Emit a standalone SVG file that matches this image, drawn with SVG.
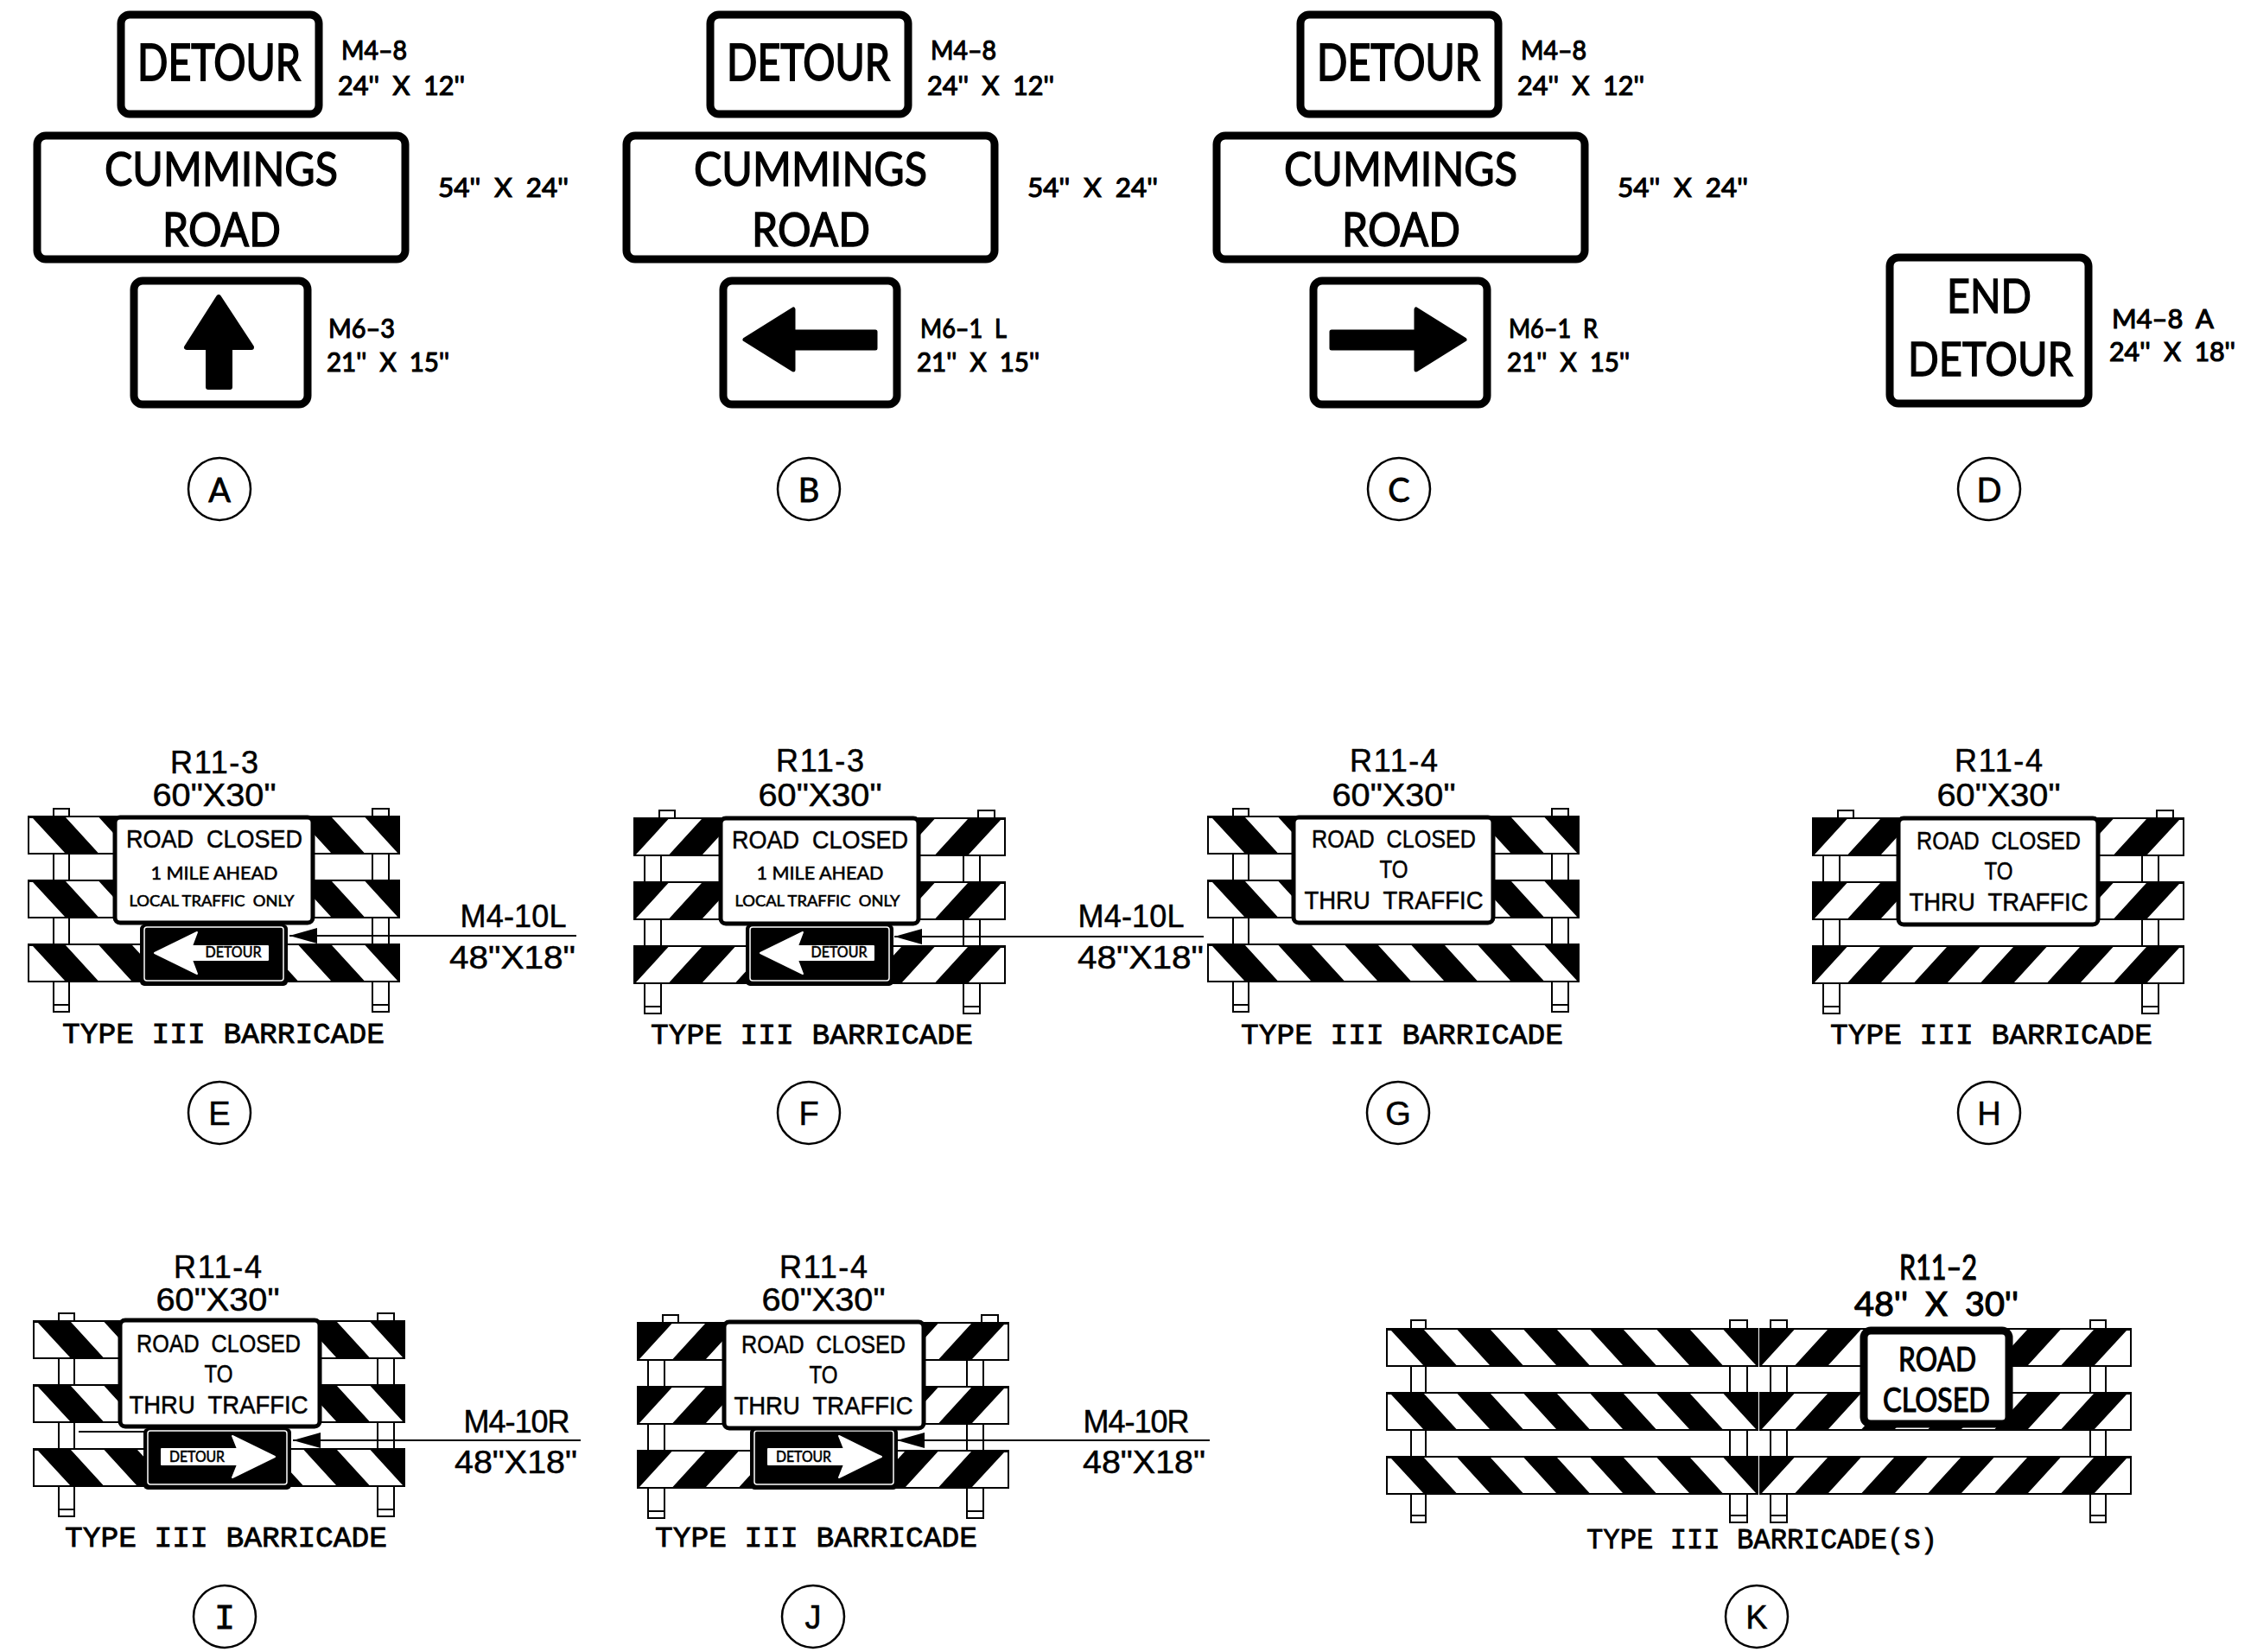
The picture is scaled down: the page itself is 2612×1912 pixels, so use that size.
<svg xmlns="http://www.w3.org/2000/svg" width="2612" height="1912" viewBox="0 0 2612 1912">
<style>
text{fill:#000;white-space:pre}
.g{font-family:"Lato","Liberation Sans",sans-serif;stroke:#000;stroke-width:1}
.big{font-size:58px;stroke-width:1.8}
.sb{font-size:55px;stroke-width:1.4}
.lab{font-size:31px;stroke-width:1.2}
.h{font-family:"Liberation Sans",Arial,sans-serif;stroke:#000;stroke-width:.5}
.top{font-size:36px;text-anchor:middle}
.rs{font-size:30px;text-anchor:middle}
.m{font-family:"Liberation Mono","Courier New",monospace;font-size:34px;stroke:#000;stroke-width:.8}
.c{font-size:38px;text-anchor:middle}
.mid{text-anchor:middle}
.box{fill:#fff;stroke:#000;stroke-width:9}
.sign{fill:#fff;stroke:#000;stroke-width:5}
.circ{fill:#fff;stroke:#000;stroke-width:2.5}
.post{fill:#fff;stroke:#000;stroke-width:2}
.ln{stroke:#000;stroke-width:2;fill:none}
.d{font-size:17px;stroke-width:.6}
</style>
<defs>
<marker id="ah" markerUnits="userSpaceOnUse" markerWidth="32" markerHeight="18" viewBox="0 0 32 18" refX="32" refY="9" orient="auto"><path d="M0,0L32,9L0,18z" fill="#000"/></marker>
<g id="railF">
<rect x="0" y="0" width="429" height="43" fill="#000" stroke="#000" stroke-width="2"/>
<path fill="#fff" d="M2,42L40.5,42L78,1L39.5,1zM79,42L117.5,42L155,1L116.5,1zM156,42L194.5,42L232,1L193.5,1zM233,42L271.5,42L309,1L270.5,1zM310,42L348.5,42L386,1L347.5,1zM387,42L428,42L428,2L424,2z"/>
</g>
<g id="railB"><use href="#railF" transform="matrix(-1 0 0 1 429 0)"/></g>
<g id="railsF"><use href="#railF"/><use href="#railF" y="74"/><use href="#railF" y="148"/></g>
<g id="railsB"><use href="#railB"/><use href="#railB" y="74"/><use href="#railB" y="148"/></g>
<g id="capsBase">
<rect class="post" x="29" y="-9" width="18" height="10"/><rect class="post" x="398" y="-9" width="19" height="10"/>
</g>
<g id="barB">
<use href="#capsBase"/>
<rect class="post" x="29" y="40" width="18" height="186"/><rect class="post" x="398" y="40" width="19" height="186"/>
<path class="ln" d="M29,218H47M398,218H417"/>
<use href="#railsB"/>
</g>
<g id="barF">
<use href="#capsBase"/>
<rect class="post" x="12" y="40" width="19" height="186"/><rect class="post" x="381" y="40" width="19" height="186"/>
<path class="ln" d="M12,218H31M381,218H400"/>
<use href="#railsF"/>
</g>
<g id="detL">
<rect x="0" y="0" width="171" height="71" rx="5" fill="#000"/>
<rect x="5" y="3" width="161" height="62" rx="3" fill="#000" stroke="#fff" stroke-width="1.5"/>
<path fill="#fff" stroke="#fff" stroke-width="2" stroke-linejoin="round" d="M17,33L66,9L60,25L148,25L148,41L60,41L66,57z"/>
</g>
<g id="detR">
<rect x="0" y="0" width="171" height="71" rx="5" fill="#000"/>
<rect x="5" y="3" width="161" height="62" rx="3" fill="#000" stroke="#fff" stroke-width="1.5"/>
<path fill="#fff" stroke="#fff" stroke-width="2" stroke-linejoin="round" d="M152,33L103,9L109,24L21,24L21,42L109,42L103,57z"/>
</g>
</defs>
<rect width="2612" height="1912" fill="#fff"/>

<g id="A">
<rect class="box" x="140" y="17" width="229" height="115" rx="10"/>
<text class="g big" x="159" y="93" textLength="189" lengthAdjust="spacingAndGlyphs">DETOUR</text>
<text class="g lab" x="395" y="69" textLength="76" lengthAdjust="spacingAndGlyphs">M4–8</text>
<text class="g lab" x="391" y="110" textLength="147" lengthAdjust="spacingAndGlyphs">24''  X  12''</text>
<rect class="box" x="43" y="157" width="426" height="143" rx="10"/>
<text class="g sb" x="121" y="215" textLength="270" lengthAdjust="spacingAndGlyphs">CUMMINGS</text>
<text class="g sb" x="188" y="285" textLength="137" lengthAdjust="spacingAndGlyphs">ROAD</text>
<text class="g lab" x="507" y="228" textLength="151" lengthAdjust="spacingAndGlyphs">54''  X  24''</text>
<rect class="box" x="155" y="325" width="201" height="143" rx="10"/>
<path fill="#000" stroke="#000" stroke-width="6" stroke-linejoin="round" d="M253,344L216,402L241,402L241,448L266,448L266,402L291,402z"/>
<text class="g lab" x="380" y="391" textLength="77" lengthAdjust="spacingAndGlyphs">M6–3</text>
<text class="g lab" x="378" y="430" textLength="142" lengthAdjust="spacingAndGlyphs">21''  X  15''</text>
<circle class="circ" cx="254" cy="566" r="36"/>
<text class="g c" x="254" y="581" style="stroke-width:.8">A</text>
</g>

<g id="B" transform="translate(682,0)">
<rect class="box" x="140" y="17" width="229" height="115" rx="10"/>
<text class="g big" x="159" y="93" textLength="189" lengthAdjust="spacingAndGlyphs">DETOUR</text>
<text class="g lab" x="395" y="69" textLength="76" lengthAdjust="spacingAndGlyphs">M4–8</text>
<text class="g lab" x="391" y="110" textLength="147" lengthAdjust="spacingAndGlyphs">24''  X  12''</text>
<rect class="box" x="43" y="157" width="426" height="143" rx="10"/>
<text class="g sb" x="121" y="215" textLength="270" lengthAdjust="spacingAndGlyphs">CUMMINGS</text>
<text class="g sb" x="188" y="285" textLength="137" lengthAdjust="spacingAndGlyphs">ROAD</text>
<text class="g lab" x="507" y="228" textLength="151" lengthAdjust="spacingAndGlyphs">54''  X  24''</text>
<rect class="box" x="155" y="325" width="201" height="143" rx="10"/>
<path fill="#000" stroke="#000" stroke-width="5" stroke-linejoin="round" d="M180,393L236,358L236,384L331,384L331,403L236,403L236,428z"/>
<text class="g lab" x="383" y="391" textLength="100" lengthAdjust="spacingAndGlyphs">M6–1  L</text>
<text class="g lab" x="379" y="430" textLength="142" lengthAdjust="spacingAndGlyphs">21''  X  15''</text>
<circle class="circ" cx="254" cy="566" r="36"/>
<text class="g c" x="254" y="581" style="stroke-width:.8">B</text>
</g>

<g id="C" transform="translate(1365,0)">
<rect class="box" x="140" y="17" width="229" height="115" rx="10"/>
<text class="g big" x="159" y="93" textLength="189" lengthAdjust="spacingAndGlyphs">DETOUR</text>
<text class="g lab" x="395" y="69" textLength="76" lengthAdjust="spacingAndGlyphs">M4–8</text>
<text class="g lab" x="391" y="110" textLength="147" lengthAdjust="spacingAndGlyphs">24''  X  12''</text>
<rect class="box" x="43" y="157" width="426" height="143" rx="10"/>
<text class="g sb" x="121" y="215" textLength="270" lengthAdjust="spacingAndGlyphs">CUMMINGS</text>
<text class="g sb" x="188" y="285" textLength="137" lengthAdjust="spacingAndGlyphs">ROAD</text>
<text class="g lab" x="507" y="228" textLength="151" lengthAdjust="spacingAndGlyphs">54''  X  24''</text>
<rect class="box" x="155" y="325" width="201" height="143" rx="10"/>
<path fill="#000" stroke="#000" stroke-width="5" stroke-linejoin="round" d="M330,393L274,358L274,384L176,384L176,403L274,403L274,428z"/>
<text class="g lab" x="381" y="391" textLength="103" lengthAdjust="spacingAndGlyphs">M6–1  R</text>
<text class="g lab" x="379" y="430" textLength="142" lengthAdjust="spacingAndGlyphs">21''  X  15''</text>
<circle class="circ" cx="254" cy="566" r="36"/>
<text class="g c" x="254" y="581" style="stroke-width:.8">C</text>
</g>

<g id="D">
<rect class="box" x="2187" y="298" width="230" height="169" rx="10"/>
<text class="g sb" x="2253" y="362" textLength="98" lengthAdjust="spacingAndGlyphs">END</text>
<text class="g sb" x="2208" y="435" textLength="191" lengthAdjust="spacingAndGlyphs">DETOUR</text>
<text class="g lab" x="2444" y="380" textLength="118" lengthAdjust="spacingAndGlyphs">M4–8  A</text>
<text class="g lab" x="2441" y="418" textLength="146" lengthAdjust="spacingAndGlyphs">24''  X  18''</text>
<circle class="circ" cx="2302" cy="566" r="36"/>
<text class="g c" x="2302" y="581" style="stroke-width:.8">D</text>
</g>

<g id="E" transform="translate(33,945)">
<use href="#barB"/>
<use href="#detL" x="129" y="125"/>
<text class="g mid d" x="237" y="163" textLength="65" lengthAdjust="spacingAndGlyphs">DETOUR</text>
<rect class="sign" x="100" y="1" width="229" height="122" rx="6"/>
<text class="h rs" x="215" y="36" textLength="204" lengthAdjust="spacingAndGlyphs">ROAD  CLOSED</text>
<text class="g mid" x="215" y="73" textLength="147" lengthAdjust="spacingAndGlyphs" style="font-size:22px;stroke-width:.6">1 MILE AHEAD</text>
<text class="g mid" x="212" y="104" textLength="191" lengthAdjust="spacingAndGlyphs" style="font-size:18px;stroke-width:.6">LOCAL TRAFFIC  ONLY</text>
<text class="h top" x="215" y="-50" textLength="102">R11-3</text>
<text class="h top" x="215" y="-12" textLength="143" lengthAdjust="spacingAndGlyphs">60"X30"</text>
<text class="m" x="39" y="262" textLength="373" lengthAdjust="spacingAndGlyphs">TYPE III BARRICADE</text>
</g>
<g id="E-tags">
<text class="h top" x="594" y="1073" textLength="123">M4-10L</text>
<text class="h top" x="593" y="1121" textLength="146" lengthAdjust="spacingAndGlyphs">48"X18"</text>
<circle class="circ" cx="254" cy="1288" r="36"/>
<text class="h c" x="254" y="1302">E</text>
</g>

<g id="F" transform="translate(734,947)">
<use href="#barF"/>
<use href="#detL" x="129" y="123"/>
<text class="g mid d" x="237" y="161" textLength="65" lengthAdjust="spacingAndGlyphs">DETOUR</text>
<rect class="sign" x="100" y="0" width="229" height="122" rx="6"/>
<text class="h rs" x="215" y="35" textLength="204" lengthAdjust="spacingAndGlyphs">ROAD  CLOSED</text>
<text class="g mid" x="215" y="71" textLength="147" lengthAdjust="spacingAndGlyphs" style="font-size:22px;stroke-width:.6">1 MILE AHEAD</text>
<text class="g mid" x="212" y="102" textLength="191" lengthAdjust="spacingAndGlyphs" style="font-size:18px;stroke-width:.6">LOCAL TRAFFIC  ONLY</text>
<text class="h top" x="215" y="-54" textLength="102">R11-3</text>
<text class="h top" x="215" y="-14" textLength="143" lengthAdjust="spacingAndGlyphs">60"X30"</text>
<text class="m" x="19" y="261" textLength="373" lengthAdjust="spacingAndGlyphs">TYPE III BARRICADE</text>
</g>
<g id="F-tags">
<text class="h top" x="1309" y="1073" textLength="123">M4-10L</text>
<text class="h top" x="1320" y="1121" textLength="146" lengthAdjust="spacingAndGlyphs">48"X18"</text>
<circle class="circ" cx="936" cy="1288" r="36"/>
<text class="h c" x="936" y="1302">F</text>
</g>

<g id="G" transform="translate(1398,945)">
<use href="#barB"/>
<rect class="sign" x="99" y="1" width="231" height="122" rx="6"/>
<text class="h rs" x="215" y="36" textLength="190" lengthAdjust="spacingAndGlyphs">ROAD  CLOSED</text>
<text class="h rs" x="215" y="71" textLength="33" lengthAdjust="spacingAndGlyphs">TO</text>
<text class="h rs" x="215" y="107" textLength="207" lengthAdjust="spacingAndGlyphs">THRU  TRAFFIC</text>
<text class="h top" x="215" y="-52" textLength="102">R11-4</text>
<text class="h top" x="215" y="-12" textLength="143" lengthAdjust="spacingAndGlyphs">60"X30"</text>
<text class="m" x="38" y="263" textLength="373" lengthAdjust="spacingAndGlyphs">TYPE III BARRICADE</text>
</g>
<g id="G-tags">
<circle class="circ" cx="1618" cy="1288" r="36"/>
<text class="h c" x="1618" y="1302">G</text>
</g>

<g id="H" transform="translate(2098,947)">
<use href="#barF"/>
<rect class="sign" x="99" y="0" width="231" height="123" rx="6"/>
<text class="h rs" x="215" y="36" textLength="190" lengthAdjust="spacingAndGlyphs">ROAD  CLOSED</text>
<text class="h rs" x="215" y="71" textLength="33" lengthAdjust="spacingAndGlyphs">TO</text>
<text class="h rs" x="215" y="107" textLength="207" lengthAdjust="spacingAndGlyphs">THRU  TRAFFIC</text>
<text class="h top" x="215" y="-54" textLength="102">R11-4</text>
<text class="h top" x="215" y="-14" textLength="143" lengthAdjust="spacingAndGlyphs">60"X30"</text>
<text class="m" x="20" y="261" textLength="373" lengthAdjust="spacingAndGlyphs">TYPE III BARRICADE</text>
</g>
<g id="H-tags">
<circle class="circ" cx="2302" cy="1288" r="36"/>
<text class="h c" x="2302" y="1302">H</text>
</g>

<g id="I" transform="translate(39,1529)">
<use href="#barB"/>
<path class="ln" d="M52,128H130"/>
<use href="#detR" x="127" y="124"/>
<text class="g mid d" x="189" y="163" textLength="64" lengthAdjust="spacingAndGlyphs">DETOUR</text>
<rect class="sign" x="100" y="-1" width="231" height="123" rx="6"/>
<text class="h rs" x="214" y="36" textLength="190" lengthAdjust="spacingAndGlyphs">ROAD  CLOSED</text>
<text class="h rs" x="214" y="71" textLength="33" lengthAdjust="spacingAndGlyphs">TO</text>
<text class="h rs" x="214" y="107" textLength="207" lengthAdjust="spacingAndGlyphs">THRU  TRAFFIC</text>
<text class="h top" x="213" y="-50" textLength="102">R11-4</text>
<text class="h top" x="213" y="-12" textLength="143" lengthAdjust="spacingAndGlyphs">60"X30"</text>
<text class="m" x="36" y="261" textLength="373" lengthAdjust="spacingAndGlyphs">TYPE III BARRICADE</text>
</g>
<g id="I-tags">
<text class="h top" x="598" y="1658" textLength="123">M4-10R</text>
<text class="h top" x="597" y="1705" textLength="142" lengthAdjust="spacingAndGlyphs">48"X18"</text>
<circle class="circ" cx="260" cy="1871" r="36"/>
<text class="m c" x="260" y="1885" style="font-size:40px">I</text>
</g>

<g id="J" transform="translate(738,1531)">
<use href="#barF"/>
<use href="#detR" x="130" y="122"/>
<text class="g mid d" x="192" y="161" textLength="64" lengthAdjust="spacingAndGlyphs">DETOUR</text>
<rect class="sign" x="100" y="-1" width="231" height="123" rx="6"/>
<text class="h rs" x="215" y="35" textLength="190" lengthAdjust="spacingAndGlyphs">ROAD  CLOSED</text>
<text class="h rs" x="215" y="70" textLength="33" lengthAdjust="spacingAndGlyphs">TO</text>
<text class="h rs" x="215" y="106" textLength="207" lengthAdjust="spacingAndGlyphs">THRU  TRAFFIC</text>
<text class="h top" x="215" y="-52" textLength="102">R11-4</text>
<text class="h top" x="215" y="-14" textLength="143" lengthAdjust="spacingAndGlyphs">60"X30"</text>
<text class="m" x="20" y="259" textLength="373" lengthAdjust="spacingAndGlyphs">TYPE III BARRICADE</text>
</g>
<g id="J-tags">
<text class="h top" x="1315" y="1658" textLength="123">M4-10R</text>
<text class="h top" x="1324" y="1705" textLength="142" lengthAdjust="spacingAndGlyphs">48"X18"</text>
<circle class="circ" cx="941" cy="1871" r="36"/>
<text class="h c" x="941" y="1885">J</text>
</g>

<g id="K">
<rect class="post" x="1633" y="1528" width="17" height="234"/><rect class="post" x="2002" y="1528" width="20" height="234"/>
<rect class="post" x="2049" y="1528" width="19" height="234"/><rect class="post" x="2419" y="1528" width="18" height="234"/>
<path class="ln" d="M1633,1754H1650M2002,1754H2022M2049,1754H2068M2419,1754H2437"/>
<use href="#railsB" x="1605" y="1538"/>
<use href="#railsF" x="2037" y="1538"/>
<rect x="2157" y="1540" width="168" height="108" rx="8" fill="#fff" stroke="#000" stroke-width="9"/>
<text class="g mid" x="2242" y="1587" textLength="90" lengthAdjust="spacingAndGlyphs" style="font-size:38px;stroke-width:1.2">ROAD</text>
<text class="g mid" x="2241" y="1634" textLength="124" lengthAdjust="spacingAndGlyphs" style="font-size:38px;stroke-width:1.2">CLOSED</text>
<text class="g mid" x="2243" y="1481" textLength="90" lengthAdjust="spacingAndGlyphs" style="font-size:40px;stroke-width:1.2">R11–2</text>
<text class="g mid" x="2241" y="1523" textLength="190" lengthAdjust="spacingAndGlyphs" style="font-size:38px;stroke-width:1.2">48''  X  30''</text>
<text class="m" x="1836" y="1792" textLength="406" lengthAdjust="spacingAndGlyphs">TYPE III BARRICADE(S)</text>
<circle class="circ" cx="2033" cy="1871" r="36"/>
<text class="h c" x="2033" y="1885">K</text>
</g>

<g id="connectors">
<line class="ln" x1="667" y1="1083" x2="335" y2="1083" marker-end="url(#ah)"/>
<line class="ln" x1="1393" y1="1084" x2="1035" y2="1084" marker-end="url(#ah)"/>
<line class="ln" x1="672" y1="1667" x2="339" y2="1667" marker-end="url(#ah)"/>
<line class="ln" x1="1400" y1="1667" x2="1038" y2="1667" marker-end="url(#ah)"/>
</g>
</svg>
